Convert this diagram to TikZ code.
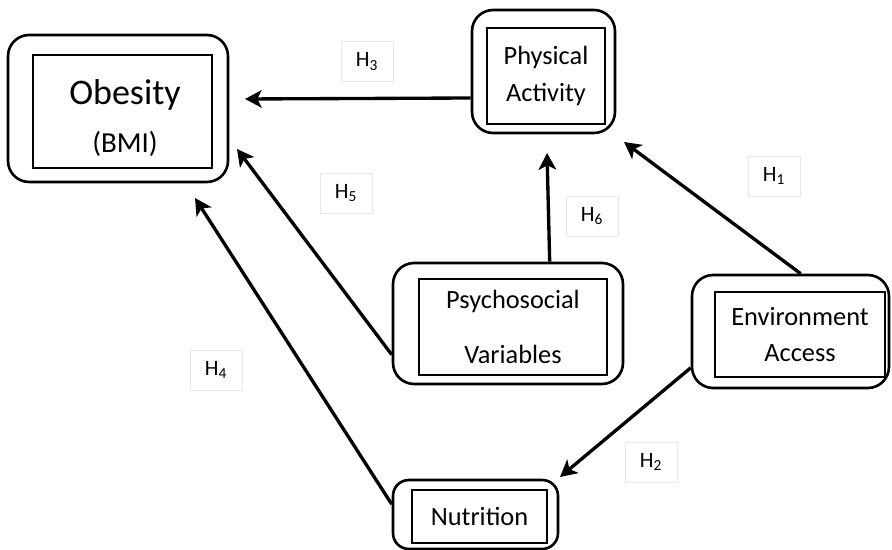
\documentclass[tikz,border=0pt]{standalone}
\usepackage{fontspec}
\setmainfont{Carlito}
\usetikzlibrary{arrows.meta}

\begin{document}
\begin{tikzpicture}[x=0.02cm,y=-0.02cm,
	outerbox/.style={draw,line width=1.5pt,rounded corners=12pt,inner sep=0pt},
	innerbox/.style={draw,line width=1.5pt,inner sep=0pt,align=center,font=\fontsize{15}{18}\selectfont},
	hlabel/.style={draw=gray!18,line width=0.4pt,minimum width=1.04cm,minimum height=0.8cm,font=\fontsize{12.5}{15}\selectfont},
	arr/.style={line width=1.9pt,-{Stealth[length=9.5pt,width=10pt,inset=2.5pt]}}]
			\useasboundingbox (0,0) rectangle (892,550);
			% outer and inner boxes
			\node[outerbox,minimum width=4.4cm,minimum height=2.94cm] (obesity) at (118,108.5) {};
			\node[innerbox,minimum width=3.58cm,minimum height=2.26cm] (obesityin) at (122.5,111.5) {};
			\node[align=center] (obesitytxt) at (125,118) {{\fontsize{20.5}{24}\selectfont Obesity}\\[11pt]{\fontsize{16.5}{20}\selectfont (BMI)}};
			\node[outerbox,minimum width=2.86cm,minimum height=2.46cm] (pa) at (543.5,71.5) {};
			\node[innerbox,minimum width=2.36cm,minimum height=1.92cm] (pain) at (546,76) {Physical\\[3pt]Activity};
			\node[outerbox,minimum width=4.6cm,minimum height=2.42cm] (psy) at (508,323.5) {};
			\node[innerbox,minimum width=3.76cm,minimum height=1.92cm] (psyin) at (513,327) {Psychosocial\\[13pt]Variables};
			\node[outerbox,minimum width=3.94cm,minimum height=2.26cm] (env) at (790.5,331.5) {};
			\node[innerbox,minimum width=3.4cm,minimum height=1.7cm] (envin) at (800,334.5) {Environment\\[2.5pt]Access};
			\node[outerbox,rounded corners=9pt,minimum width=3.3cm,minimum height=1.38cm] (nut) at (475.5,514.5) {};
			\node[innerbox,minimum width=2.7cm,minimum height=1.06cm] (nutin) at (479.5,516.5) {Nutrition};
			% arrow tips
			\coordinate (tip3) at (245,99);
			\coordinate (tip5) at (237,149);
			\coordinate (tip4) at (195,198);
			\coordinate (tip6) at (547,153);
			\coordinate (tip1) at (624,142);
			\coordinate (tip2) at (560,477);
			% connectors
			\draw[arr] (pa.200) -- (tip3);
			\draw[arr] (psy.195) -- (tip5);
			\draw[arr] (nut.173) -- (tip4);
			\draw[arr] (psy.56) -- (tip6);
			\draw[arr] (env.80) -- (tip1);
			\draw[arr] (env.200) -- (tip2);
			% labels
			\node[hlabel] (h3) at (367,61.5) {H\textsubscript{3}};
			\node[hlabel] (h1) at (774,176) {H\textsubscript{1}};
			\node[hlabel] (h5) at (346,193) {H\textsubscript{5}};
			\node[hlabel] (h6) at (592,216) {H\textsubscript{6}};
			\node[hlabel] (h4) at (216,370) {H\textsubscript{4}};
			\node[hlabel] (h2) at (651,462) {H\textsubscript{2}};
		\end{tikzpicture}
\end{document}
